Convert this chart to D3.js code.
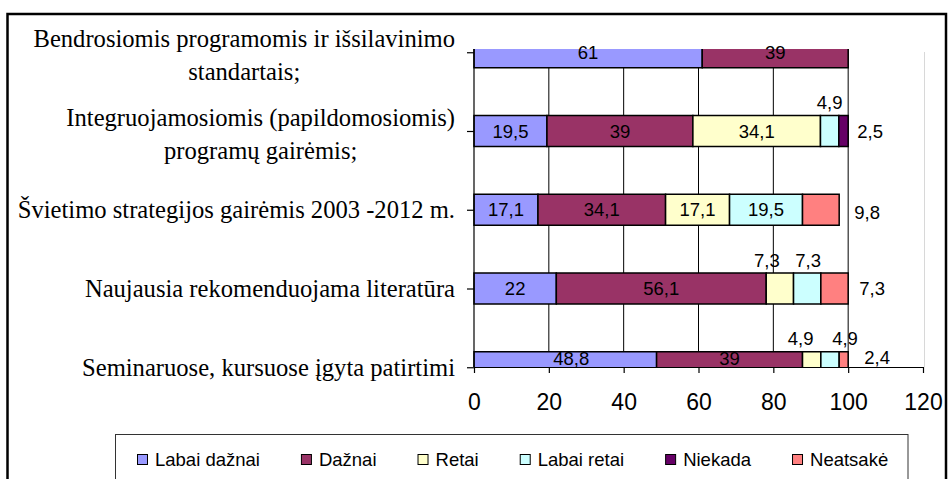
<!DOCTYPE html>
<html>
<head>
<meta charset="utf-8">
<script src="https://cdn.jsdelivr.net/npm/d3@7"></script>
<style>
  body { margin: 0; background: #fff; }
</style>
</head>
<body>
<div id="chart"></div>
<script>
const log = console.log

// categories, top to bottom (line breaks where the labels wrap)
const categories = [
    "Bendrosiomis programomis ir išsilavinimo\nstandartais;",
    "Integruojamosiomis (papildomosiomis)\nprogramų gairėmis;",
    "Švietimo strategijos gairėmis 2003 -2012 m.",
    "Naujausia rekomenduojama literatūra",
    "Seminaruose, kursuose įgyta patirtimi"
]
const seriesNames = ["Labai dažnai", "Dažnai", "Retai", "Labai retai", "Niekada", "Neatsakė"]
const labaiDaznai = [61, 19.5, 17.1, 22, 48.8]
const daznai = [39, 39, 34.1, 56.1, 39]
const retai = [0, 34.1, 17.1, 7.3, 4.9]
const labaiRetai = [0, 4.9, 19.5, 7.3, 4.9]
const niekada = [0, 2.5, 0, 0, 0]
const neatsake = [0, 0, 9.8, 7.3, 2.4]
const xTicks = [0, 20, 40, 60, 80, 100, 120]

const seriesValues = [labaiDaznai, daznai, retai, labaiRetai, niekada, neatsake]
const colors = ["#9999FF", "#993366", "#FFFFCC", "#CCFFFF", "#660066", "#FF8080"]

// where a data label sits, keyed "row-series"; anything not listed is centred in its segment
const labelPlace = {
    "1-3": {mode: "above", dx: 0},
    "1-4": {mode: "right", dx: 22, dy: 0},
    "2-5": {mode: "right", dx: 19, dy: 3},
    "3-2": {mode: "above", dx: -13},
    "3-3": {mode: "above", dx: 1},
    "3-5": {mode: "right", dx: 24, dy: 0},
    "4-0": {mode: "in", dx: 6},
    "4-2": {mode: "above", dx: -11},
    "4-3": {mode: "above", dx: 15},
    "4-5": {mode: "right", dx: 29, dy: 0}
}

const W = 949, H = 479
const plot = {left: 474, right: 923, top: 49, bottom: 367}
const barH = 31
const sans = "'Liberation Sans', Arial, sans-serif"
const serif = "'Liberation Serif', 'Times New Roman', serif"

/** table for d3.stack */
const table = categories.map((c, i) => {
    const row = {cat: c, idx: i}
    seriesNames.forEach((s, j) => { row[s] = seriesValues[j][i] })
    return row
})
const stacked = d3.stack().keys(seriesNames)(table)

const x = d3.scaleLinear().domain([0, 120]).range([plot.left, plot.right])
const y = d3.scalePoint().domain(categories).range([52.25, 367.25])

const svg = d3.select("#chart").append("svg")
    .attr("width", W).attr("height", H)
    .style("display", "block")

svg.append("defs").append("clipPath").attr("id", "plotclip")
    .append("rect")
    .attr("x", plot.left - 2).attr("y", plot.top)
    .attr("width", plot.right - plot.left + 4).attr("height", plot.bottom - plot.top)

// outer frame
svg.append("rect")
    .attr("x", 7.5).attr("y", 14).attr("width", 938.5).attr("height", H + 20)
    .attr("fill", "none").attr("stroke", "#000").attr("stroke-width", 2.5)

// gridlines
svg.append("g").selectAll("line")
    .data(xTicks.filter(d => d > 0 && d < 120))
    .join("line")
    .attr("x1", d => x(d)).attr("x2", d => x(d))
    .attr("y1", plot.top).attr("y2", plot.bottom)
    .attr("stroke", "#000").attr("stroke-width", 1)

// plot area right border
svg.append("line")
    .attr("x1", plot.right + 1.5).attr("x2", plot.right + 1.5)
    .attr("y1", 52).attr("y2", plot.bottom)
    .attr("stroke", "#d8d8d8").attr("stroke-width", 1)

// bars
const bars = svg.append("g").attr("clip-path", "url(#plotclip)")
bars.selectAll("g")
    .data(stacked)
    .join("g")
    .attr("fill", (d, i) => colors[i])
    .selectAll("rect")
    .data(d => d.filter(seg => seg[1] - seg[0] > 0))
    .join("rect")
    .attr("x", d => x(d[0]))
    .attr("width", d => x(d[1]) - x(d[0]))
    .attr("y", d => y(d.data.cat) - barH / 2)
    .attr("height", barH)
    .attr("stroke", "#000").attr("stroke-width", 1.5)

// y axis
svg.append("line")
    .attr("x1", plot.left).attr("x2", plot.left)
    .attr("y1", plot.top).attr("y2", plot.bottom)
    .attr("stroke", "#000").attr("stroke-width", 1.2)
const yAxis = svg.append("g")
    .attr("transform", `translate(${plot.left},0)`)
    .call(d3.axisLeft(y).tickSize(7).tickFormat(""))
yAxis.select(".domain").remove()
yAxis.selectAll("line").attr("stroke", "#000").attr("stroke-width", 1.2)

// x axis
const xAxis = svg.append("g")
    .attr("transform", `translate(0,${plot.bottom})`)
    .call(d3.axisBottom(x).tickValues(xTicks).tickSize(6).tickSizeOuter(0).tickFormat(d3.format("d")))
xAxis.select(".domain").attr("stroke", "#000").attr("stroke-width", 1.2)
xAxis.selectAll("line").attr("stroke", "#000").attr("stroke-width", 1.2)
xAxis.selectAll("text")
    .attr("y", 35).attr("dy", "0.35em")
    .attr("fill", "#000")
    .style("font-family", sans).style("font-size", "23px")

// category labels, wrapped lines centred on the widest one
const catG = svg.append("g")
categories.forEach(c => {
    const lines = c.split("\n")
    const yc = y(c)
    const texts = lines.map((ln, k) => {
        const dy = lines.length === 1 ? 0 : (k === 0 ? -14 : 19.5)
        return catG.append("text")
            .attr("y", yc + dy)
            .attr("dominant-baseline", "central")
            .attr("text-anchor", "middle")
            .style("font-family", serif).style("font-size", "24.6px")
            .attr("fill", "#000")
            .text(ln)
    })
    const w = d3.max(texts, t => t.node().getComputedTextLength())
    texts.forEach(t => t.attr("x", 455 - w / 2))
})

// data labels
const fmt = v => String(v).replace(".", ",")
const labG = svg.append("g")
stacked.forEach((layer, j) => {
    layer.forEach((seg, i) => {
        const v = seriesValues[j][seg.data.idx]
        if (!(v > 0)) return
        const place = labelPlace[i + "-" + j] || {mode: "in", dx: 0}
        const yc = y(seg.data.cat)
        let lx, ly
        if (place.mode === "above") {
            lx = x((seg[0] + seg[1]) / 2) + place.dx
            ly = yc - barH / 2 - 13
        } else if (place.mode === "right") {
            lx = x(100) + place.dx
            ly = Math.min(yc + place.dy, plot.bottom - 9.5)
        } else {
            lx = x((seg[0] + seg[1]) / 2) + place.dx
            ly = Math.min(yc, plot.bottom - 8.5)
        }
        labG.append("text")
            .attr("x", lx).attr("y", ly)
            .attr("text-anchor", "middle")
            .attr("dominant-baseline", "central")
            .style("font-family", sans).style("font-size", "18.5px")
            .attr("fill", "#000")
            .text(fmt(v))
    })
})

// legend
const legend = svg.append("g")
legend.append("rect")
    .attr("x", 115.5).attr("y", 434.5).attr("width", 792.5).attr("height", 60)
    .attr("fill", "#fff").attr("stroke", "#333").attr("stroke-width", 1)
let lx = 137
seriesNames.forEach((s, i) => {
    legend.append("rect")
        .attr("x", lx + 0.5).attr("y", 454.5).attr("width", 10).attr("height", 10)
        .attr("fill", colors[i]).attr("stroke", "#000").attr("stroke-width", 1)
    const t = legend.append("text")
        .attr("x", lx + 18).attr("y", 465.5)
        .style("font-family", sans).style("font-size", "18.5px")
        .attr("fill", "#000")
        .text(s)
    lx += 18 + t.node().getComputedTextLength() + 41
})
</script>
</body>
</html>
